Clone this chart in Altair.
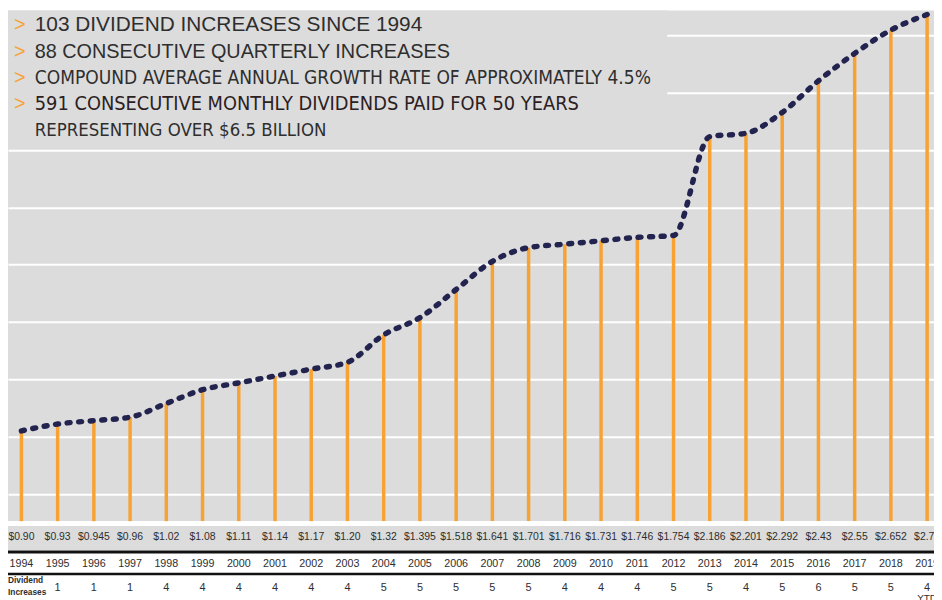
import altair as alt
import pandas as pd

# ---------------- data ----------------
years = list(range(1994, 2020))
dividends = [0.90, 0.93, 0.945, 0.96, 1.02, 1.08, 1.11, 1.14, 1.17, 1.20, 1.32, 1.395,
             1.518, 1.641, 1.701, 1.716, 1.731, 1.746, 1.754, 2.186, 2.201, 2.292,
             2.43, 2.55, 2.652, 2.72]
dividend_labels = ["$0.90", "$0.93", "$0.945", "$0.96", "$1.02", "$1.08", "$1.11",
                   "$1.14", "$1.17", "$1.20", "$1.32", "$1.395", "$1.518", "$1.641",
                   "$1.701", "$1.716", "$1.731", "$1.746", "$1.754", "$2.186",
                   "$2.201", "$2.292", "$2.43", "$2.55", "$2.652", "$2.72"]
increase_years = list(range(1995, 2020))
increases = ["1", "1", "1", "4", "4", "4", "4", "4", "4", "5", "5", "5", "5", "5",
             "4", "4", "4", "5", "5", "4", "5", "6", "5", "5", "4"]
headline_lines = [
    "103 DIVIDEND INCREASES SINCE 1994",
    "88 CONSECUTIVE QUARTERLY INCREASES",
    "COMPOUND AVERAGE ANNUAL GROWTH RATE OF APPROXIMATELY 4.5%",
    "591 CONSECUTIVE MONTHLY DIVIDENDS PAID FOR 50 YEARS",
    "REPRESENTING OVER $6.5 BILLION",
]
grid_values = [0.623, 0.748, 0.873, 0.999, 1.124, 1.250, 1.375, 1.500, 1.626, 1.751,
               1.877, 2.002, 2.127, 2.253, 2.378, 2.504, 2.629]

# ---------------- styling ----------------
GRAY = "#dcdcdc"
ORANGE = "#f7a233"
NAVY = "#232350"
TEXT = "#2e2e2e"
FONT = "Liberation Sans"
NARROW = "DejaVu Sans Condensed, Liberation Sans, sans-serif"

W, H = 934, 515
Y_MIN, Y_MAX = 0.5057, 2.7373
X_DOM = [1993.63, 2019.19]

df = pd.DataFrame({"year": years, "dividend": dividends, "label": dividend_labels})
inc_df = pd.DataFrame({"year": increase_years, "inc": increases})
one = pd.DataFrame({"a": [0]})

x_scale = alt.Scale(domain=X_DOM, nice=False, zero=False)
x_enc = alt.X("year:Q", scale=x_scale, axis=None)
y_scale = alt.Scale(domain=[Y_MIN, Y_MAX], nice=False, zero=False)

base = alt.Chart(df)

grid = base.mark_point(opacity=0).encode(
    x=x_enc,
    y=alt.Y("dividend:Q", scale=y_scale,
            axis=alt.Axis(values=grid_values, grid=True, gridColor="white", gridWidth=2,
                          gridOpacity=1, labels=False, ticks=False, domain=False, title=None)),
)

text_box = alt.Chart(one).mark_rect(color=GRAY).encode(
    x=alt.value(0), x2=alt.value(665), y=alt.value(0), y2=alt.value(138)
)

bars = base.mark_rule(color=ORANGE, strokeWidth=3.5).encode(
    x=x_enc,
    y=alt.Y("dividend:Q", scale=y_scale),
    y2=alt.datum(Y_MIN),
)

line = base.mark_line(color=NAVY, strokeWidth=5.5, strokeCap="round",
                      strokeDash=[3, 8.7], interpolate="monotone").encode(
    x=x_enc,
    y=alt.Y("dividend:Q", scale=y_scale),
)

# headline text
head_layers = []
baselines = [21, 48, 74, 100, 127]
fonts = [FONT, FONT, NARROW, NARROW, NARROW]
sizes = [21, 20, 19.2, 20, 18.6]
colors = [TEXT, TEXT, TEXT, "#2b2022", TEXT]
for i, (txt, yb) in enumerate(zip(headline_lines, baselines)):
    head_layers.append(
        alt.Chart(one).mark_text(align="left", baseline="alphabetic", font=fonts[i],
                                 fontSize=sizes[i], color=colors[i]).encode(
            x=alt.value(27), y=alt.value(yb), text=alt.value(txt))
    )
    if i < 4:
        head_layers.append(
            alt.Chart(one).mark_text(align="left", baseline="alphabetic", font=FONT,
                                     fontSize=20, color=ORANGE).encode(
                x=alt.value(6), y=alt.value(yb), text=alt.value(">"))
        )

# table below the plot
band = alt.Chart(one).mark_rect(color=GRAY).encode(
    x=alt.value(0), x2=alt.value(W), y=alt.value(520), y2=alt.value(544.5)
)
rule1 = alt.Chart(one).mark_rule(color="#111111", strokeWidth=3).encode(
    x=alt.value(0), x2=alt.value(W), y=alt.value(546.2)
)
rule2 = alt.Chart(one).mark_rule(color="#111111", strokeWidth=2.7).encode(
    x=alt.value(0), x2=alt.value(W), y=alt.value(568.3)
)
value_row = base.mark_text(font=FONT, fontSize=10.5, color=TEXT, baseline="middle").encode(
    x=x_enc, y=alt.value(531.5), text="label:N"
)
year_row = base.mark_text(font=FONT, fontSize=10.8, color=TEXT, baseline="middle").encode(
    x=x_enc, y=alt.value(558.7), text="year:N"
)
inc_row = alt.Chart(inc_df).mark_text(font=FONT, fontSize=11, color=TEXT,
                                      baseline="middle").encode(
    x=x_enc, y=alt.value(582), text="inc:N"
)
ytd = alt.Chart(one).mark_text(font=FONT, fontSize=10, color=TEXT, baseline="middle").encode(
    x=alt.X("a:Q", scale=x_scale, axis=None),
    y=alt.value(592.5), text=alt.value("YTD")
).transform_calculate(a="2019")
inc_label1 = alt.Chart(one).mark_text(font=FONT, fontSize=8.4, fontWeight="bold",
                                      color=TEXT, align="left", baseline="middle").encode(
    x=alt.value(0), y=alt.value(574.7), text=alt.value("Dividend"))
inc_label2 = alt.Chart(one).mark_text(font=FONT, fontSize=8.4, fontWeight="bold",
                                      color=TEXT, align="left", baseline="middle").encode(
    x=alt.value(0), y=alt.value(586.3), text=alt.value("Increases"))

chart = alt.layer(
    grid, text_box, bars, line, *head_layers,
    band, rule1, rule2, value_row, year_row, inc_row, ytd, inc_label1, inc_label2,
).properties(
    width=W, height=H,
    autosize=alt.AutoSizeParams(type="none"),
    padding={"left": 0, "top": 0, "right": 0, "bottom": 77},
    background="white",
).configure_view(fill=GRAY, stroke=None)

chart.save("out.html", embed_options={"renderer": "svg", "actions": False})
